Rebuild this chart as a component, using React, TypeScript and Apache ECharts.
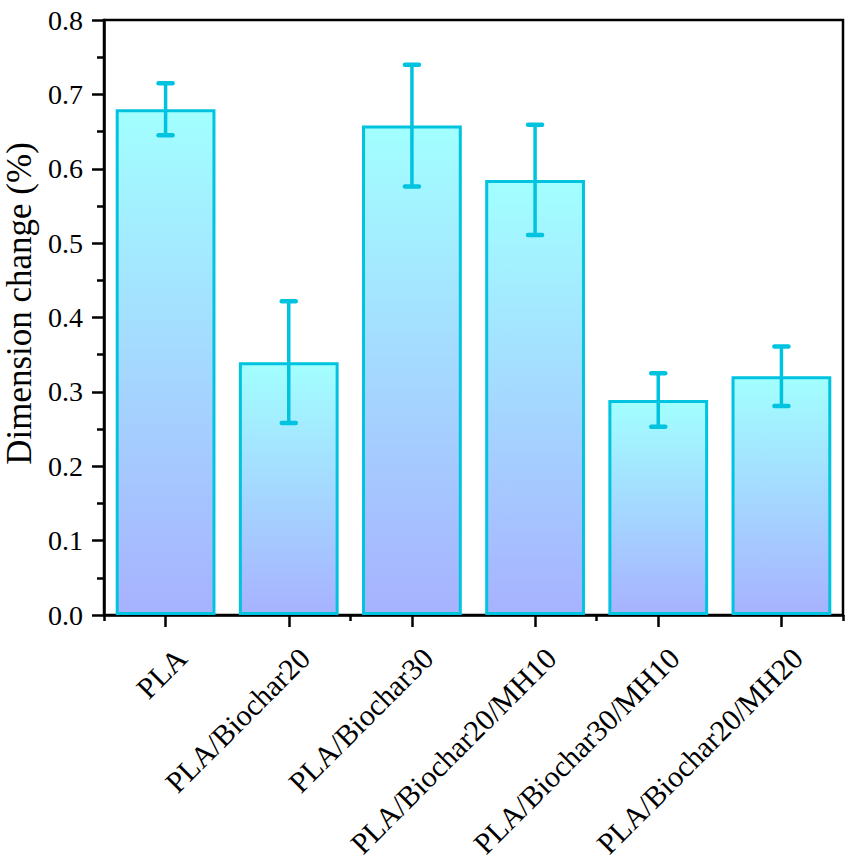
import React, { useEffect, useRef } from "react";
import * as echarts from "echarts";

// Sample names along the x axis
const categories = [
  "PLA",
  "PLA/Biochar20",
  "PLA/Biochar30",
  "PLA/Biochar20/MH10",
  "PLA/Biochar30/MH10",
  "PLA/Biochar20/MH20",
];

// Mean dimension change (%) and its standard deviation
const means = [0.68, 0.34, 0.658, 0.585, 0.289, 0.321];
const errors = [0.035, 0.082, 0.082, 0.074, 0.036, 0.04];

const yTicks = [0, 0.1, 0.2, 0.3, 0.4, 0.5, 0.6, 0.7, 0.8];

const FONT = "Times New Roman, Liberation Serif, Tinos, serif";
const EDGE = "#00C3DF";

export default function App() {
  const ref = useRef<HTMLDivElement>(null);

  useEffect(() => {
    if (!ref.current) return;
    const chart = echarts.init(ref.current, undefined, { renderer: "svg" });

    const errData = means.map((m, i) => [i, m - errors[i], m + errors[i]]);

    chart.setOption({
      animation: false,
      backgroundColor: "#fff",
      grid: {
        left: 104,
        right: 10,
        top: 20,
        bottom: 252,
        containLabel: false,
        outerBoundsMode: "none",
        show: true,
        borderColor: "#000",
        borderWidth: 2.5,
        backgroundColor: "transparent",
      },
      xAxis: [
        {
          type: "category",
          data: categories,
          position: "bottom",
          axisLine: { show: true, lineStyle: { color: "#000", width: 2.5 } },
          axisTick: {
            show: true,
            alignWithLabel: true,
            inside: false,
            length: 12,
            lineStyle: { color: "#000", width: 2.5 },
          },
          axisLabel: {
            rotate: 45,
            interval: 0,
            margin: 22,
            align: "right",
            verticalAlign: "top",
            lineHeight: 45,
            color: "#000",
            fontFamily: FONT,
            fontSize: 30,
          },
        },
        {
          type: "category",
          data: categories,
          position: "bottom",
          axisLine: { show: false },
          axisTick: {
            show: true,
            alignWithLabel: false,
            length: 6,
            lineStyle: { color: "#000", width: 2.5 },
          },
          axisLabel: { show: false },
        },
      ],
      yAxis: {
        type: "value",
        min: yTicks[0],
        max: yTicks[yTicks.length - 1],
        interval: 0.1,
        name: "Dimension change (%)",
        nameLocation: "middle",
        nameGap: 65,
        nameTextStyle: {
          color: "#000",
          fontFamily: FONT,
          fontSize: 35,
          lineHeight: 36,
          padding: [0, 0, 0, 28],
        },
        axisLine: { show: true, lineStyle: { color: "#000", width: 2.5 } },
        axisTick: { show: true, length: 12, lineStyle: { color: "#000", width: 2.5 } },
        minorTick: { show: true, splitNumber: 2, length: 7, lineStyle: { color: "#000", width: 2.5 } },
        splitLine: { show: false },
        axisLabel: {
          margin: 21,
          color: "#000",
          fontFamily: FONT,
          fontSize: 28,
          formatter: (v: number) => v.toFixed(1),
        },
      },
      series: [
        {
          type: "bar",
          data: means,
          barCategoryGap: "19%",
          itemStyle: {
            color: new echarts.graphic.LinearGradient(0, 0, 0, 1, [
              { offset: 0, color: "#A2FFFF" },
              { offset: 1, color: "#A7B2FF" },
            ]),
            borderColor: EDGE,
            borderWidth: 3,
          },
          z: 2,
        },
        {
          type: "custom",
          data: errData,
          z: 5,
          renderItem: (params: any, api: any) => {
            const x = api.value(0);
            const lo = api.coord([x, api.value(1)]);
            const hi = api.coord([x, api.value(2)]);
            const cap = 7;
            const style = { stroke: EDGE, lineWidth: 3.5, lineCap: "round" };
            return {
              type: "group",
              children: [
                { type: "line", shape: { x1: hi[0], y1: hi[1], x2: lo[0], y2: lo[1] }, style },
                { type: "line", shape: { x1: hi[0] - cap, y1: hi[1], x2: hi[0] + cap, y2: hi[1] }, style: { ...style, lineWidth: 4.5 } },
                { type: "line", shape: { x1: lo[0] - cap, y1: lo[1], x2: lo[0] + cap, y2: lo[1] }, style: { ...style, lineWidth: 4.5 } },
              ],
            };
          },
        },
      ],
    });

    return () => chart.dispose();
  }, []);

  return (
    <div
      ref={ref}
      style={{ position: "fixed", left: 0, top: 0, width: 853, height: 867 }}
    />
  );
}
